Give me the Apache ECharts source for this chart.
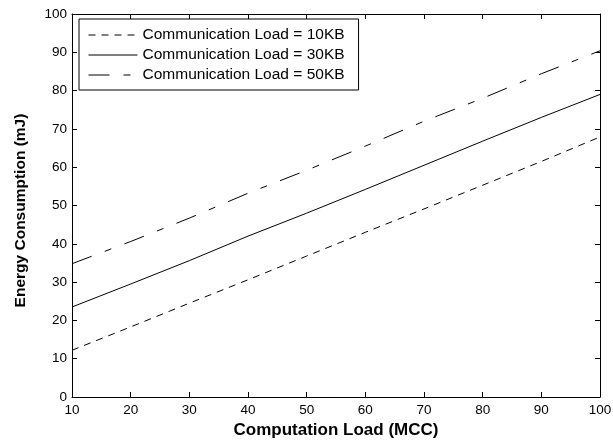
<!DOCTYPE html>
<html>
<head>
<meta charset="utf-8">
<script src="https://cdn.jsdelivr.net/npm/echarts@6/dist/echarts.min.js"></script>
<style>
  html, body { margin: 0; padding: 0; background: #fff; }
  #chart { width: 613px; height: 441px; }
</style>
</head>
<body>
<div id="chart"></div>
<script>
// --- data ---
const computationLoad = [10, 20, 30, 40, 50, 60, 70, 80, 90, 100];
const energy10KB = [12.2, 18.3, 24.5, 30.6, 36.8, 43.0, 49.1, 55.3, 61.5, 67.9];
const energy30KB = [23.5, 29.5, 35.6, 42.0, 48.0, 54.2, 60.5, 66.8, 73.0, 79.0];
const energy50KB = [34.8, 40.6, 46.7, 53.2, 59.2, 65.5, 72.0, 78.0, 84.4, 90.4];
const seriesNames = [
  'Communication Load = 10KB',
  'Communication Load = 30KB',
  'Communication Load = 50KB'
];
const xTicks = { min: 10, max: 100, step: 10 };
const yTicks = { min: 0, max: 100, step: 10 };

const font = 'Liberation Sans, Arial, Helvetica, sans-serif';
const pairs = (ys) => computationLoad.map((x, i) => [x, ys[i]]);

const chart = echarts.init(document.getElementById('chart'), null, { renderer: 'canvas' });

// shared axis look: black box, ticks pointing inward
const axisBase = {
  type: 'value',
  axisLine: { show: true, onZero: false, lineStyle: { color: '#000', width: 1 } },
  axisTick: { show: true, inside: true, length: 5, lineStyle: { color: '#000' } },
  splitLine: { show: false }
};

const option = {
  backgroundColor: '#fff',
  animation: false,
  // fixed plot box, no auto shrinking for labels
  grid: { left: 72, right: 13, top: 14, bottom: 44, containLabel: false, outerBoundsMode: 'none' },
  legend: {
    orient: 'vertical',
    left: 79,
    top: 19,
    padding: [8, 14, 7, 9],
    itemGap: 4,
    itemWidth: 49,
    itemHeight: 14,
    backgroundColor: '#fff',
    borderColor: '#000',
    borderWidth: 1,
    borderRadius: 0,
    // hide the marker, keep only the line sample
    itemStyle: { color: 'rgba(0,0,0,0)', borderWidth: 0, opacity: 0 },
    lineStyle: { width: 1 },
    textStyle: { fontFamily: font, fontSize: 15.5, color: '#000', padding: [0, 0, 0, 0] },
    data: seriesNames
  },
  xAxis: [
    Object.assign({}, axisBase, {
      position: 'bottom',
      min: xTicks.min, max: xTicks.max, interval: xTicks.step,
      name: 'Computation Load (MCC)',
      nameLocation: 'middle',
      nameGap: 25,
      nameTextStyle: { fontFamily: font, fontSize: 17, fontWeight: 'bold', color: '#000' },
      axisLabel: { fontFamily: font, fontSize: 13.5, color: '#000', margin: 6 }
    }),
    Object.assign({}, axisBase, {
      position: 'top',
      min: xTicks.min, max: xTicks.max, interval: xTicks.step,
      axisLabel: { show: false }
    })
  ],
  yAxis: [
    Object.assign({}, axisBase, {
      position: 'left',
      min: yTicks.min, max: yTicks.max, interval: yTicks.step,
      name: 'Energy Consumption (mJ)',
      nameLocation: 'middle',
      nameGap: 43,
      nameTextStyle: { fontFamily: font, fontSize: 15.5, fontWeight: 'bold', color: '#000', padding: [0, 10, 0, 0] },
      axisLabel: { fontFamily: font, fontSize: 13.5, color: '#000', margin: 5 }
    }),
    Object.assign({}, axisBase, {
      position: 'right',
      min: yTicks.min, max: yTicks.max, interval: yTicks.step,
      axisLabel: { show: false }
    })
  ],
  series: [
    {
      name: seriesNames[0],
      type: 'line',
      data: pairs(energy10KB),
      symbol: 'none',
      lineStyle: { color: '#000', width: 1, type: [7, 6] },
      itemStyle: { color: '#000' }
    },
    {
      name: seriesNames[1],
      type: 'line',
      data: pairs(energy30KB),
      symbol: 'none',
      lineStyle: { color: '#000', width: 1, type: 'solid' },
      itemStyle: { color: '#000' }
    },
    {
      name: seriesNames[2],
      type: 'line',
      data: pairs(energy50KB),
      symbol: 'none',
      lineStyle: { color: '#000', width: 1, type: [21, 14, 7, 14] },
      itemStyle: { color: '#000' }
    }
  ]
};

chart.setOption(option);
</script>
</body>
</html>
